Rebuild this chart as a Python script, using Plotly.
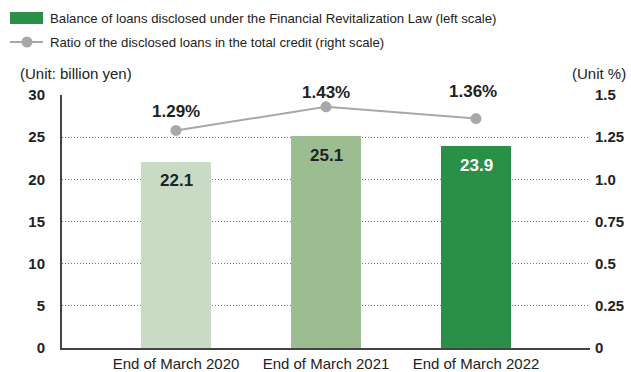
import plotly.graph_objects as go

# Data
categories = ["End of March 2020", "End of March 2021", "End of March 2022"]
loan_balance = [22.1, 25.1, 23.9]          # billion yen (left scale)
loan_ratio = [1.29, 1.43, 1.36]            # % (right scale)
left_ticks = [0, 5, 10, 15, 20, 25, 30]
right_ticks = [0, 0.25, 0.5, 0.75, 1.0, 1.25, 1.5]
right_tick_text = ["0", "0.25", "0.5", "0.75", "1.0", "1.25", "1.5"]

bar_colors = ["#c9dbc5", "#9cbd91", "#2a8f47"]
bar_label_colors = ["#222222", "#222222", "#ffffff"]
line_color = "#a7a8ab"
text_color = "#222222"
FONT = "Liberation Sans, Arial, sans-serif"

W, H = 631, 372
ML, MR, MT, MB = 62, 41, 95, 24
PW, PH = W - ML - MR, H - MT - MB


def px_x(x):
    return (x - ML) / PW


def px_y(y):
    return (H - MB - y) / PH


fig = go.Figure()

fig.add_trace(go.Bar(
    x=categories, y=loan_balance, marker_color=bar_colors,
    marker_line_width=0, width=0.467, showlegend=False, yaxis="y",
))

fig.add_trace(go.Scatter(
    x=categories, y=loan_ratio, mode="lines+markers", yaxis="y2",
    line=dict(color=line_color, width=2),
    marker=dict(color=line_color, size=11), showlegend=False,
))

annotations = []
# Bar value labels, just below each bar top
for c, v, col in zip(categories, loan_balance, bar_label_colors):
    annotations.append(dict(
        x=c, y=v, xref="x", yref="y", text=f"<b>{v}</b>", showarrow=False,
        yshift=-19, font=dict(family=FONT, size=17, color=col),
    ))
# Ratio labels above markers
ratio_shifts = [19, 14, 27]
ratio_xshift = [0, 0, -3]
for c, v, ys, xs in zip(categories, loan_ratio, ratio_shifts, ratio_xshift):
    annotations.append(dict(
        x=c, y=v, xref="x", yref="y2", text=f"<b>{v:.2f}%</b>", showarrow=False,
        yshift=ys, xshift=xs, font=dict(family=FONT, size=17, color=text_color),
    ))

# Unit captions
annotations.append(dict(
    x=px_x(18), y=px_y(73), xref="paper", yref="paper", xanchor="left",
    yanchor="middle", text="(Unit: billion yen)", showarrow=False,
    font=dict(family=FONT, size=15, color=text_color),
))
annotations.append(dict(
    x=px_x(628), y=px_y(73), xref="paper", yref="paper", xanchor="right",
    yanchor="middle", text="(Unit %)", showarrow=False,
    font=dict(family=FONT, size=15, color=text_color),
))

# Custom legend
legend_texts = [
    "Balance of loans disclosed under the Financial Revitalization Law (left scale)",
    "Ratio of the disclosed loans in the total credit (right scale)",
]
for t, yy in zip(legend_texts, [18, 42]):
    annotations.append(dict(
        x=px_x(48), y=px_y(yy), xref="paper", yref="paper", xanchor="left",
        yanchor="middle", text=t, showarrow=False,
        font=dict(family=FONT, size=13.2, color=text_color),
    ))

shapes = [
    dict(type="rect", xref="paper", yref="paper",
         x0=px_x(10), x1=px_x(43), y0=px_y(24), y1=px_y(12),
         fillcolor=bar_colors[2], line_width=0),
    dict(type="line", xref="paper", yref="paper",
         x0=px_x(10), x1=px_x(43), y0=px_y(42), y1=px_y(42),
         line=dict(color=line_color, width=2)),
    dict(type="circle", xref="paper", yref="paper",
         x0=px_x(21.5), x1=px_x(32.5), y0=px_y(47.5), y1=px_y(36.5),
         fillcolor=line_color, line_width=0),
]

fig.update_layout(
    width=W, height=H, margin=dict(l=ML, r=MR, t=MT, b=MB, autoexpand=False),
    paper_bgcolor="white", plot_bgcolor="white",
    font=dict(family=FONT, color=text_color),
    bargap=0, annotations=annotations, shapes=shapes,
    xaxis=dict(
        range=[-0.76, 2.76], showgrid=False, showline=True,
        linecolor="#444444", linewidth=2, ticks="", automargin=False,
        tickfont=dict(family=FONT, size=15, color=text_color),
        ticklabelstandoff=1,
    ),
    yaxis=dict(
        range=[0, 30], tickvals=left_ticks, showgrid=True,
        gridcolor="#777777", griddash="1px,2px", gridwidth=1, automargin=False,
        showline=True, linecolor="#444444", linewidth=2, zeroline=False,
        tickfont=dict(family=FONT, size=15, color=text_color, weight="bold"),
        ticklabelstandoff=12,
    ),
    yaxis2=dict(
        range=[0, 1.5], overlaying="y", side="right", automargin=False,
        tickvals=right_ticks, ticktext=right_tick_text, showgrid=False,
        showline=False, zeroline=False,
        tickfont=dict(family=FONT, size=15, color=text_color, weight="bold"),
        ticklabelstandoff=4,
    ),
)

fig.write_html("out.html")
